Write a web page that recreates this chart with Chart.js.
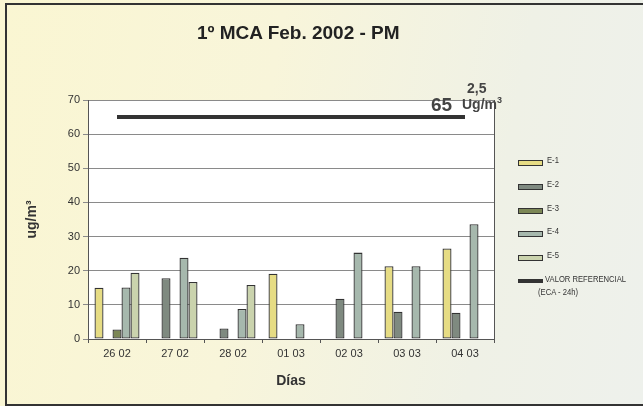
<!DOCTYPE html>
<html lang="es">
<head>
<meta charset="UTF-8">
<title>1º MCA Feb. 2002 - PM</title>
<script src="https://cdn.jsdelivr.net/npm/chart.js"></script>
<style>
  html, body { margin: 0; padding: 0; }
  body {
    width: 643px; height: 406px; overflow: hidden; position: relative;
    font-family: "Liberation Sans", Arial, sans-serif;
    background: linear-gradient(100deg, #faf6d2 0%, #f8f5da 40%, #eff1e6 75%, #eef1ec 100%);
  }
  #frame {
    position: absolute; left: 5px; top: 3px; width: 720px; height: 399px;
    border-top: 2px solid #333; border-left: 2px solid #333; border-bottom: 2px solid #333;
  }
  #chart { position: absolute; left: 0; top: 0; }
  #title {
    position: absolute; left: 197px; top: 22px; font-size: 19px; font-weight: bold; color: #222;
  }
  .note { position: absolute; font-weight: bold; color: #444; }
  #legend { position: absolute; left: 518px; top: 160px; font-size: 9px; color: #333; }
  .item { position: absolute; left: 0; white-space: nowrap; }
  .sw { position: absolute; left: 0; width: 23px; height: 4px; border: 1px solid #333; }
  .txt { position: absolute; left: 29px; top: -5px; transform: scaleX(0.85); transform-origin: left; }
</style>
</head>
<body>
<div id="frame"></div>
<canvas id="chart" width="643" height="406"></canvas>
<div id="title">1º MCA Feb. 2002 - PM</div>
<div class="note" style="left:467px; top:80px; font-size:14px;">2,5</div>
<div class="note" style="left:431px; top:94px; font-size:19px;">65</div>
<div class="note" style="left:462px; top:95px; font-size:14px;">Ug/m<sup style="font-size:9px;">3</sup></div>
<div id="legend"></div>
<script>
  const categories = ["26 02", "27 02", "28 02", "01 03", "02 03", "03 03", "04 03"];
  const e1 = [15, null, null, 19.1, null, 21.3, 26.5];
  const e2 = [null, 17.8, 3.1, null, 11.8, 8.0, 7.7];
  const e3 = [2.8, null, null, null, null, null, null];
  const e4 = [15.1, 23.8, 8.8, 4.3, 25.3, 21.3, 33.6];
  const e5 = [19.4, 16.7, 15.8, null, null, null, null];
  const referencia = [65, 65, 65, 65, 65, 65, 65];
  const yTicks = [0, 10, 20, 30, 40, 50, 60, 70];

  const series = [
    { label: "E-1", data: e1, color: "#e6dc84" },
    { label: "E-2", data: e2, color: "#7f8a80" },
    { label: "E-3", data: e3, color: "#7c8756" },
    { label: "E-4", data: e4, color: "#a6b8ad" },
    { label: "E-5", data: e5, color: "#cad3ad" }
  ];

  const datasets = series.map(s => ({
    type: "bar",
    label: s.label,
    data: s.data,
    backgroundColor: s.color,
    borderColor: "#333",
    borderWidth: 1.3,
    borderSkipped: false,
    categoryPercentage: 0.776,
    barPercentage: 1.0,
    order: 2
  }));
  datasets.push({
    type: "line",
    label: "VALOR REFERENCIAL (ECA - 24h)",
    data: referencia,
    borderColor: "#333",
    borderWidth: 4,
    pointRadius: 0,
    fill: false,
    order: 1
  });

  const plotBox = {
    id: "plotBox",
    beforeDraw(chart) {
      const a = chart.chartArea, ctx = chart.ctx;
      ctx.save();
      ctx.fillStyle = "#ffffff";
      ctx.fillRect(a.left, a.top, a.right - a.left, a.bottom - a.top);
      ctx.restore();
    },
    afterDraw(chart) {
      const a = chart.chartArea, ctx = chart.ctx;
      ctx.save();
      ctx.strokeStyle = "#555";
      ctx.lineWidth = 1;
      ctx.beginPath();
      ctx.moveTo(a.right + 0.5, a.top);
      ctx.lineTo(a.right + 0.5, a.bottom);
      ctx.stroke();
      ctx.restore();
    }
  };

  new Chart(document.getElementById("chart"), {
    data: { labels: categories, datasets: datasets },
    options: {
      responsive: false,
      animation: false,
      layout: { padding: { left: 0, top: 100, right: 149, bottom: 0 } },
      plugins: { legend: { display: false }, tooltip: { enabled: false } },
      scales: {
        x: {
          afterFit(scale) { scale.height = 67; },
          grid: { display: true, drawOnChartArea: false, drawTicks: true, tickLength: 4, color: "#555", offset: true },
          border: { color: "#555" },
          ticks: { color: "#333", font: { family: "Liberation Sans", size: 11 }, padding: 4 },
          title: { display: true, text: "Días", color: "#333", font: { family: "Liberation Sans", size: 14, weight: "bold" }, padding: { top: 0, bottom: 16 } }
        },
        y: {
          min: 0, max: 70,
          afterFit(scale) { scale.width = 88; },
          afterBuildTicks(scale) { scale.ticks = yTicks.map(v => ({ value: v })); },
          grid: { color: "#8a8a8a", tickLength: 5, lineWidth: 1 },
          border: { color: "#555" },
          ticks: { color: "#333", font: { family: "Liberation Sans", size: 11 }, padding: 3 },
          title: { display: true, text: "ug/m³", color: "#333", font: { family: "Liberation Sans", size: 14, weight: "bold" }, padding: { top: 24, bottom: 0 } }
        }
      }
    },
    plugins: [plotBox]
  });

  // leyenda
  const legend = document.getElementById("legend");
  series.forEach((s, i) => {
    const it = document.createElement("div");
    it.className = "item";
    it.style.top = (i * 23.8) + "px";
    it.innerHTML = '<div class="sw" style="background:' + s.color + '"></div><div class="txt">' + s.label + '</div>';
    legend.appendChild(it);
  });
  const refItem = document.createElement("div");
  refItem.className = "item";
  refItem.style.top = (5 * 23.8) + "px";
  refItem.innerHTML = '<div class="sw" style="background:#333;height:2px;border-width:1px 0 1px 0;width:25px"></div>' +
    '<div class="txt" style="left:27px">VALOR REFERENCIAL</div>' +
    '<div class="txt" style="left:20px;top:8px">(ECA - 24h)</div>';
  legend.appendChild(refItem);
</script>
</body>
</html>
